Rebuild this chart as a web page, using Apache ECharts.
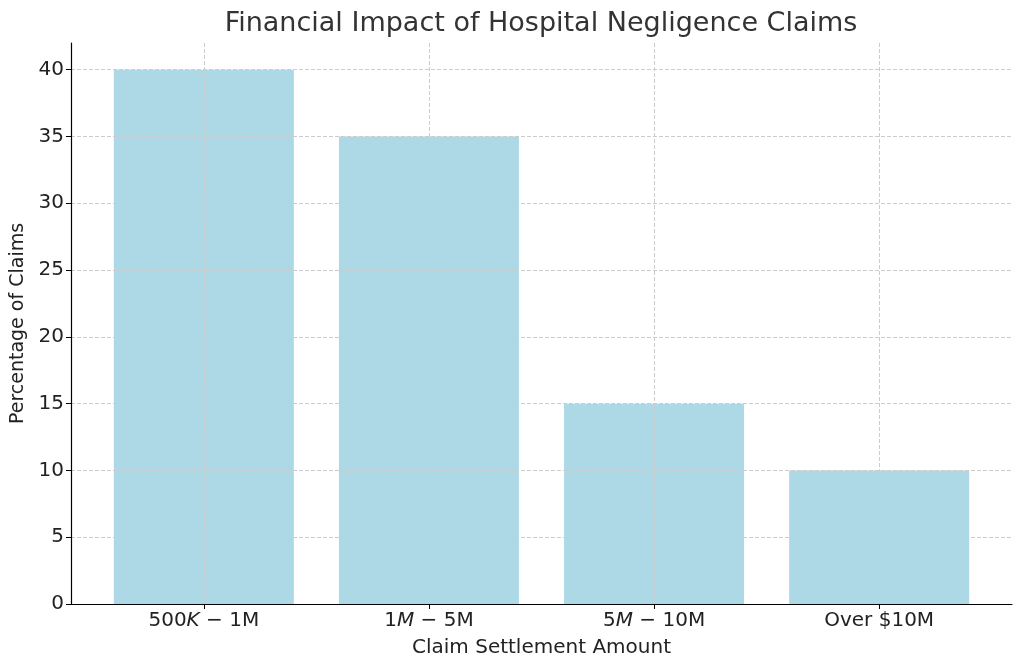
<!DOCTYPE html>
<html>
<head>
<meta charset="utf-8">
<script src="https://cdn.jsdelivr.net/npm/echarts@6/dist/echarts.min.js"></script>
<style>
html,body{margin:0;padding:0;background:#fff;}
#chart{width:1024px;height:669px;}
</style>
</head>
<body>
<div id="chart"></div>
<script>
var title = 'Financial Impact of Hospital Negligence Claims';
var xAxisName = 'Claim Settlement Amount';
var yAxisName = 'Percentage of Claims';
var categories = ['500K − 1M', '1M − 5M', '5M − 10M', 'Over $10M'];
var percentages = [40, 35, 15, 10];
var yTicks = [0, 5, 10, 15, 20, 25, 30, 35, 40];

var positions = categories.map(function (c, i) { return i; });
var barData = percentages.map(function (v, i) { return [i, v]; });

function fmtCat(v) {
  var idx = Math.round(v);
  var s = categories[idx];
  if (s === undefined) return '';
  return s.replace(/^(\d+)([KM])( − )/, '$1{i|$2}$3');
}

var chart = echarts.init(document.getElementById('chart'), null, {renderer: 'canvas'});
var font = 'DejaVu Sans';
var gridStyle = {show: true, lineStyle: {color: '#cccccc', width: 1, type: [4, 2]}};
chart.setOption({
  animation: false,
  backgroundColor: '#ffffff',
  textStyle: {fontFamily: font},
  title: {
    text: title, left: 536, top: 5, textAlign: 'center',
    textStyle: {fontFamily: font, fontSize: 27, fontWeight: 'normal', color: '#333333'}
  },
  grid: {left: 71, right: 12, top: 43, bottom: 65, containLabel: false, outerBoundsMode: 'none'},
  xAxis: {
    type: 'value', min: -0.59, max: 3.59, z: 5,
    name: xAxisName, nameLocation: 'middle', nameGap: 34,
    nameTextStyle: {fontFamily: font, fontSize: 20, color: '#222'},
    axisLine: {show: true, onZero: false, lineStyle: {color: '#000', width: 1.2}},
    axisTick: {show: true, customValues: positions, length: 5, lineStyle: {color: '#000', width: 1}},
    axisLabel: {
      customValues: positions, formatter: fmtCat, margin: 7,
      fontFamily: font, fontSize: 20, color: '#222',
      rich: {i: {fontFamily: font, fontStyle: 'italic', fontSize: 20, color: '#222'}}
    },
    splitLine: gridStyle
  },
  yAxis: {
    type: 'value', min: 0, max: 42, z: 5,
    name: yAxisName, nameLocation: 'middle', nameGap: 38,
    nameTextStyle: {fontFamily: font, fontSize: 19, color: '#222'},
    axisLine: {show: true, onZero: false, lineStyle: {color: '#000', width: 1.2}},
    axisTick: {show: true, customValues: yTicks, length: 5, lineStyle: {color: '#000', width: 1}},
    axisLabel: {customValues: yTicks, margin: 7, fontFamily: font, fontSize: 20, color: '#222'},
    splitLine: gridStyle
  },
  series: [{
    type: 'bar', data: barData, barWidth: 180, z: 1,
    itemStyle: {color: '#ADD8E6'}
  }]
});
</script>
</body>
</html>
